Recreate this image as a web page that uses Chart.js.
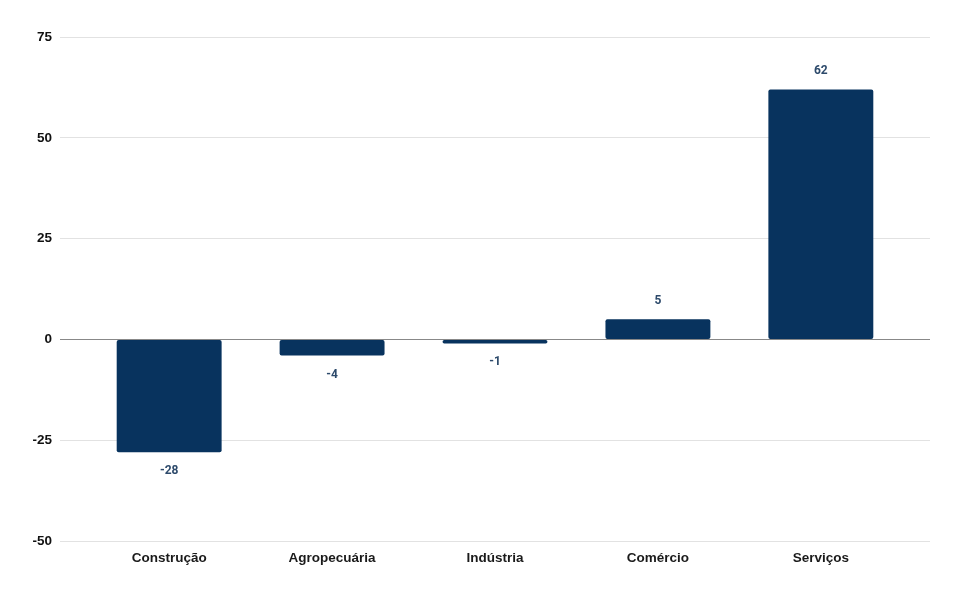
<!doctype html>
<html lang="pt">
<head>
  <meta charset="utf-8" />
  <title>Saldo por setor</title>
  <script src="https://cdn.jsdelivr.net/npm/chart.js"></script>
  <style>
    html,body{margin:0;background:#fff}
    .wrap{width:960px;height:593px;position:relative}
  </style>
</head>
<body>
  <div class="wrap"><canvas id="chart"></canvas></div>
  <script>
    // data
    const categories = ['Construção', 'Agropecuária', 'Indústria', 'Comércio', 'Serviços'];
    const values = [-28, -4, -1, 5, 62];
    const yTicks = [-50, -25, 0, 25, 50, 75];

    const BAR = '#08335e';
    const LABEL = '#2d4a6b';
    const FONT = 'Roboto, "Liberation Sans", Arial, sans-serif';
    const AXIS_FONT = '"Liberation Sans", Arial, sans-serif';

    // value labels above / below each bar
    const valueLabels = {
      id: 'valueLabels',
      afterDatasetsDraw(chart) {
        const ctx = chart.ctx;
        const meta = chart.getDatasetMeta(0);
        ctx.save();
        ctx.font = 'bold 12px ' + FONT;
        ctx.fillStyle = LABEL;
        ctx.textAlign = 'center';
        ctx.textBaseline = 'middle';
        meta.data.forEach((bar, i) => {
          const v = values[i];
          const y = v >= 0 ? bar.y - 18 : bar.y + 19;
          ctx.fillText(String(v), bar.x, y);
        });
        ctx.restore();
      }
    };

    new Chart(document.getElementById('chart'), {
      type: 'bar',
      data: {
        datasets: [{
          data: values.map((v, i) => ({ x: i, y: v })),
          backgroundColor: BAR,
          borderRadius: 2,
          borderSkipped: false,
          categoryPercentage: 0.644,
          barPercentage: 1
        }]
      },
      options: {
        responsive: true,
        maintainAspectRatio: false,
        animation: false,
        layout: { padding: { top: 37, right: 30, left: 0, bottom: 0 } },
        plugins: { legend: { display: false }, tooltip: { enabled: false } },
        scales: {
          x: {
            type: 'linear',
            offset: false,
            min: -0.67,
            max: categories.length - 1 + 0.67,
            grid: { display: false },
            border: { display: false },
            afterBuildTicks(scale) {
              scale.ticks = categories.map((c, i) => ({ value: i }));
            },
            afterFit(scale) { scale.height = 52; },
            ticks: {
              autoSkip: false,
              maxRotation: 0,
              padding: 1,
              color: '#1a1a1a',
              font: { family: AXIS_FONT, size: 13.5, weight: 'bold' },
              callback: v => categories[v]
            }
          },
          y: {
            min: yTicks[0],
            max: yTicks[yTicks.length - 1],
            afterBuildTicks(scale) {
              scale.ticks = yTicks.map(v => ({ value: v }));
            },
            afterFit(scale) { scale.width = 60; },
            border: { display: false },
            grid: {
              drawTicks: false,
              color: ctx => ctx.tick && ctx.tick.value === 0 ? '#888' : '#e2e2e2',
              lineWidth: 1
            },
            ticks: {
              padding: 8,
              color: '#111',
              font: { family: AXIS_FONT, size: 13.5, weight: 'bold' }
            }
          }
        }
      },
      plugins: [valueLabels]
    });
  </script>
</body>
</html>
